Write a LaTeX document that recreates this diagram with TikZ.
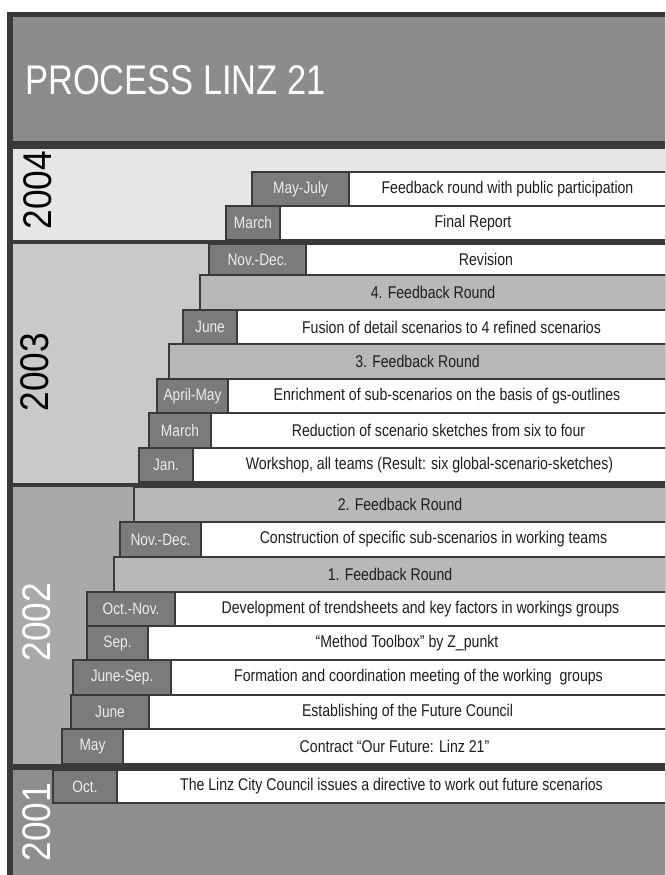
\documentclass[tikz,border=0pt]{standalone}
\usepackage{fontspec}
\setmainfont[FakeStretch=0.83]{Liberation Sans}
\newfontfamily\yearfont[FakeStretch=0.88]{Liberation Sans}
\definecolor{dk}{HTML}{3A3A3A}
\definecolor{titlegray}{HTML}{8C8C8C}
\definecolor{bgA}{HTML}{E6E6E6}
\definecolor{bgB}{HTML}{C9C9C9}
\definecolor{bgC}{HTML}{A9A9A9}
\definecolor{bgD}{HTML}{8E8E8E}
\definecolor{mgray}{HTML}{7B7B7B}
\definecolor{fbgray}{HTML}{B8B8B8}
\definecolor{mtext}{HTML}{ECECEC}
\definecolor{tdark}{HTML}{1E1E1E}
\tikzset{
  rowframe/.style={line width=2pt, draw=dk, inner sep=0pt, outer sep=0pt, anchor=north west},
  monthbox/.style={rowframe, fill=mgray, text=mtext, font=\fontsize{16.5}{17}\selectfont},
  descbox/.style={rowframe, fill=white, text=tdark, font=\fontsize{17}{18}\selectfont},
  fbbox/.style={rowframe, fill=fbgray, text=tdark, font=\fontsize{17}{18}\selectfont},
  yearlabel/.style={rotate=90, font=\yearfont\fontsize{40}{40}\selectfont, inner sep=0pt}
}
% name, ytop, ybot, xleft, xmid, month, text
\newcommand\evrow[7]{%
  \node[monthbox, minimum width={(#5-#4)*1pt}, minimum height={(#3-#2)*1pt}] (#1m) at (#4,#2) {#6};
  \node[descbox, minimum width={(666-#5)*1pt}, minimum height={(#3-#2)*1pt}] (#1t) at (#5,#2) {#7};
}
% name, ytop, ybot, xleft, text
\newcommand\fbrow[5]{%
  \node[fbbox, minimum width={(666-#4)*1pt}, minimum height={(#3-#2)*1pt}] (#1) at (#4,#2) {#5};
}
\begin{document}
\begin{tikzpicture}[x=1pt,y=-1pt]
\clip (0,0) rectangle (665,875);
\fill[white] (0,0) rectangle (665,875);
% outer frame
\fill[dk] (7,12) rectangle (670,880);
% section backgrounds
\fill[titlegray] (13,17) rectangle (670,141);
\fill[bgA] (13,149) rectangle (670,239.5);
\fill[bgB] (13,244) rectangle (670,482.5);
\fill[bgC] (13,487) rectangle (670,764);
\fill[bgD] (13,769.5) rectangle (670,880);
% title
\node[anchor=base west, inner sep=0pt, text=white, font=\fontsize{41.5}{42}\selectfont] (title) at (25,94) {PROCESS LINZ 21};
% year labels
\node[yearlabel, text=black] (y2004) at (38,190) {2004};
\node[yearlabel, text=black] (y2003) at (35,372) {2003};
\node[yearlabel, text=white] (y2002) at (37,622) {2002};
\node[yearlabel, text=white] (y2001) at (37,822) {2001};
% 2004
\evrow{a1}{172}{206}{252}{349}{May-July}{Feedback round with public participation}
\evrow{a2}{206}{240}{226}{280}{March}{Final Report}
% 2003
\evrow{b1}{244}{275}{209}{306}{Nov.-Dec.}{Revision}
\fbrow{b2}{275}{310}{200}{4. Feedback Round}
\evrow{b3}{310}{344}{183}{237}{June}{Fusion of detail scenarios to 4 refined scenarios}
\fbrow{b4}{344}{379}{169}{3. Feedback Round}
\evrow{b5}{379}{413}{157}{228}{April-May}{Enrichment of sub-scenarios on the basis of gs-outlines}
\evrow{b6}{413}{448}{149}{211}{March}{Reduction of scenario sketches from six to four}
\evrow{b7}{448}{482}{139}{193}{Jan.}{Workshop, all teams (Result: six global-scenario-sketches)}
% 2002
\fbrow{c1}{487}{522}{134}{2. Feedback Round}
\evrow{c2}{522}{557}{120}{201}{Nov.-Dec.}{Construction of specific sub-scenarios in working teams}
\fbrow{c3}{557}{592}{114}{1. Feedback Round}
\evrow{c4}{592}{626}{87}{175}{Oct.-Nov.}{Development of trendsheets and key factors in workings groups}
\evrow{c5}{626}{660}{87}{148}{Sep.}{“Method Toolbox” by Z\_punkt}
\evrow{c6}{660}{695}{73}{171}{June-Sep.}{Formation and coordination meeting of the working\ \ groups}
\evrow{c7}{695}{729}{71}{149}{June}{Establishing of the Future Council}
\evrow{c8}{729}{764}{62}{123}{May}{Contract “Our Future: Linz 21”}
% 2001
\evrow{d1}{770}{803}{53}{117}{Oct.}{The Linz City Council issues a directive to work out future scenarios}
\end{tikzpicture}
\end{document}
